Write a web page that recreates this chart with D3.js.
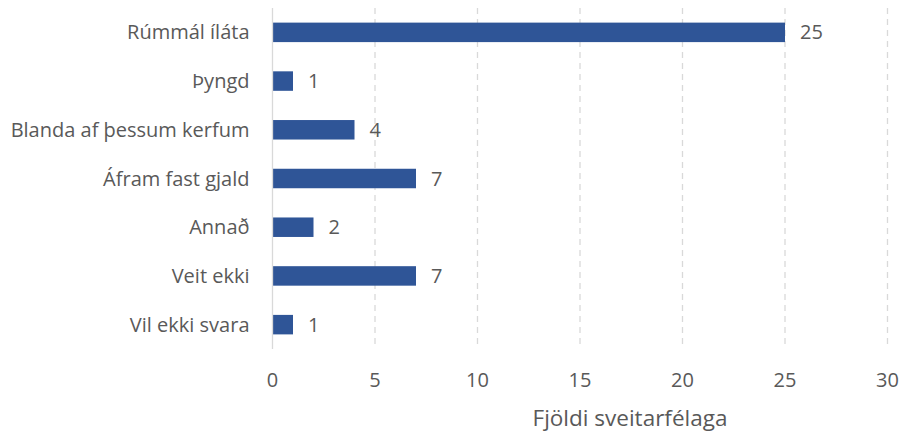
<!DOCTYPE html>
<html>
<head>
<meta charset="utf-8">
<script src="https://cdn.jsdelivr.net/npm/d3@7"></script>
<style>
  body { margin: 0; background: #fff; }
  svg text { font-family: "Open Sans", "Noto Sans", sans-serif; fill: #595959; }
</style>
</head>
<body>
<div id="chart"></div>
<script>
const categories = ["Rúmmál íláta", "Þyngd", "Blanda af þessum kerfum", "Áfram fast gjald", "Annað", "Veit ekki", "Vil ekki svara"];
const counts = [25, 1, 4, 7, 2, 7, 1];
const xTicks = [0, 5, 10, 15, 20, 25, 30];
const xTitle = "Fjöldi sveitarfélaga";

const width = 901, height = 436;
const margin = {Left: 272.5, Right: 13.5, Top: 8, Bottom: 87};

const svg = d3.select("#chart").append("svg")
  .attr("width", width)
  .attr("height", height);

const x = d3.scaleLinear().domain([0, 30]).range([margin.Left, width - margin.Right]);
const y = d3.scaleBand().domain(categories).range([margin.Top, height - margin.Bottom]).paddingInner(0.6).paddingOuter(0.3);

// gridlines
svg.append("g")
  .selectAll("line")
  .data(xTicks.filter(d => d > 0))
  .join("line")
  .attr("x1", d => x(d)).attr("x2", d => x(d))
  .attr("y1", margin.Top).attr("y2", height - margin.Bottom)
  .attr("stroke", "#d9d9d9")
  .attr("stroke-width", 1.3)
  .attr("stroke-dasharray", "6,5");

// bars
svg.append("g")
  .selectAll("rect")
  .data(counts)
  .join("rect")
  .attr("x", x(0))
  .attr("y", (d, i) => y(categories[i]))
  .attr("width", d => x(d) - x(0))
  .attr("height", y.bandwidth())
  .attr("fill", "#2f5597");

// axis line
svg.append("line")
  .attr("x1", x(0)).attr("x2", x(0))
  .attr("y1", margin.Top).attr("y2", height - margin.Bottom)
  .attr("stroke", "#d9d9d9")
  .attr("stroke-width", 1.3);

// value labels
svg.append("g")
  .selectAll("text")
  .data(counts)
  .join("text")
  .attr("x", d => x(d) + 15)
  .attr("y", (d, i) => y(categories[i]) + y.bandwidth() / 2)
  .attr("dy", "0.35em")
  .attr("font-size", 20)
  .attr("fill", "#404040")
  .text(d => d);

// category labels
svg.append("g")
  .selectAll("text")
  .data(categories)
  .join("text")
  .attr("x", x(0) - 23)
  .attr("y", d => y(d) + y.bandwidth() / 2)
  .attr("dy", "0.35em")
  .attr("text-anchor", "end")
  .attr("font-size", 20)
  .text(d => d);

// x tick labels
svg.append("g")
  .selectAll("text")
  .data(xTicks)
  .join("text")
  .attr("x", d => x(d))
  .attr("y", 380)
  .attr("dy", "0.35em")
  .attr("text-anchor", "middle")
  .attr("font-size", 20)
  .text(d => d);

svg.append("text")
  .attr("x", 630)
  .attr("y", 418)
  .attr("dy", "0.35em")
  .attr("text-anchor", "middle")
  .attr("font-size", 22.5)
  .text(xTitle);
</script>
</body>
</html>
